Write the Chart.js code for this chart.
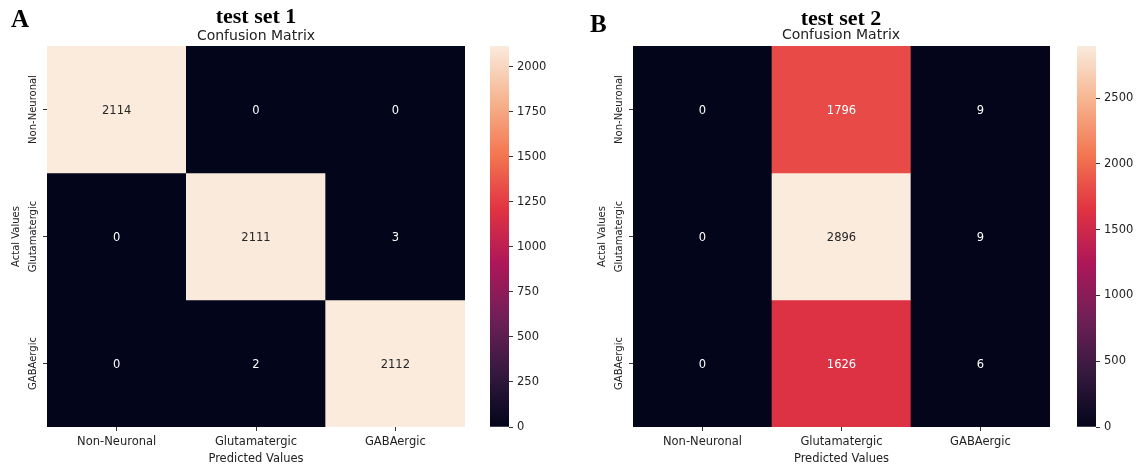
<!DOCTYPE html>
<html>
<head>
<meta charset="utf-8">
<script src="https://cdn.jsdelivr.net/npm/chart.js@4"></script>
<style>
body{margin:0;width:1139px;height:468px;overflow:hidden;background:#fff;position:relative}
canvas{position:absolute;top:0}
.panel{position:absolute;font-family:"Liberation Serif";font-weight:bold;font-size:25px;line-height:25px;color:#000}
.title{position:absolute;width:420px;text-align:center;font-family:"Liberation Serif";font-weight:bold;font-size:22px;line-height:22px;color:#000}
.sub{position:absolute;width:420px;text-align:center;font-family:"DejaVu Sans";font-size:14px;line-height:14px;color:#222}
</style>
</head>
<body>
<canvas id="hm1" width="480" height="468" style="left:0"></canvas>
<canvas id="cb1" width="80" height="468" style="left:480px"></canvas>
<canvas id="hm2" width="480" height="468" style="left:586px"></canvas>
<canvas id="cb2" width="72" height="468" style="left:1067px"></canvas>

<div class="panel" style="left:11px;top:6px">A</div>
<div class="title" style="left:46px;top:5px">test set 1</div>
<div class="sub" style="left:46px;top:28px">Confusion Matrix</div>
<div class="panel" style="left:590px;top:11px">B</div>
<div class="title" style="left:631px;top:7px">test set 2</div>
<div class="sub" style="left:631px;top:27px">Confusion Matrix</div>

<script>
const rowLabels = ['Non-Neuronal', 'Glutamatergic', 'GABAergic'];
const colLabels = ['Non-Neuronal', 'Glutamatergic', 'GABAergic'];
const set1 = [[2114, 0, 0], [0, 2111, 3], [0, 2, 2112]];
const set2 = [[0, 1796, 9], [0, 2896, 9], [0, 1626, 6]];
const cbTicks1 = [0, 250, 500, 750, 1000, 1250, 1500, 1750, 2000];
const cbTicks2 = [0, 500, 1000, 1500, 2000, 2500];

// seaborn "rocket" colormap, sampled
const rocketStops = [[0, '#03051a'], [1/7, '#35193e'], [2/7, '#701f57'], [3/7, '#ad1759'],
    [4/7, '#e13342'], [5/7, '#f37651'], [6/7, '#f6b48f'], [1, '#faebdd']];

function hex(h) { return [1, 3, 5].map(i => parseInt(h.slice(i, i + 2), 16)); }
function rocket(t) {
    t = Math.max(0, Math.min(1, t));
    for (let i = 1; i < rocketStops.length; i++) {
        const [p1, c1] = rocketStops[i - 1];
        const [p2, c2] = rocketStops[i];
        if (t <= p2) {
            const f = (t - p1) / (p2 - p1);
            const a = hex(c1), b = hex(c2);
            return a.map((v, k) => Math.round(v + (b[k] - v) * f));
        }
    }
    return hex('#faebdd');
}
function lum(rgb) {
    const c = rgb.map(v => { v /= 255; return v <= 0.03928 ? v / 12.92 : Math.pow((v + 0.055) / 1.055, 2.4); });
    return 0.2126 * c[0] + 0.7152 * c[1] + 0.0722 * c[2];
}

const font = 'DejaVu Sans';
const textCol = '#222';

// numbers in the cells + rotated row labels
const cellText = {
    id: 'cellText',
    afterDatasetsDraw(chart, args, opts) {
        const ctx = chart.ctx;
        ctx.save();
        ctx.font = '11.5px "' + font + '"';
        ctx.textAlign = 'center';
        ctx.textBaseline = 'middle';
        chart.data.datasets.forEach((ds, r) => {
            chart.getDatasetMeta(r).data.forEach((bar, c) => {
                const v = ds.values[c];
                ctx.fillStyle = lum(rocket(v / opts.vmax)) > 0.408 ? '#262626' : '#ffffff';
                const p = bar.getCenterPoint();
                ctx.fillText(String(v), p.x, p.y + 1.5);
            });
        });
        const ys = chart.scales.y;
        ctx.font = '10px "' + font + '"';
        ctx.fillStyle = textCol;
        ys.ticks.forEach((t, i) => {
            ctx.save();
            ctx.translate(ys.right - 14, ys.getPixelForValue(t.value));
            ctx.rotate(-Math.PI / 2);
            ctx.fillText(rowLabels[i], 0, 0);
            ctx.restore();
        });
        ctx.restore();
    }
};

function makeHeatmap(id, matrix, padRight) {
    const vmax = Math.max(...matrix.flat());
    const datasets = matrix.map((row, r) => ({
        data: row.map(() => [r, r + 1]),
        values: row,
        backgroundColor: row.map(v => 'rgb(' + rocket(v / vmax).join(',') + ')'),
        grouped: false,
        barPercentage: 1,
        categoryPercentage: 1,
        borderWidth: 0
    }));
    new Chart(document.getElementById(id), {
        type: 'bar',
        data: { labels: colLabels, datasets: datasets },
        options: {
            responsive: false,
            animation: false,
            layout: { padding: { top: 46, left: 0, right: padRight, bottom: 0 } },
            plugins: { legend: { display: false }, tooltip: { enabled: false }, cellText: { vmax: vmax } },
            scales: {
                x: {
                    offset: true,
                    grid: { display: true, offset: false, drawOnChartArea: false, tickLength: 4, color: '#333' },
                    border: { display: false },
                    ticks: { font: { family: font, size: 11.5 }, color: textCol, padding: 4, maxRotation: 0 },
                    title: { display: true, text: 'Predicted Values', font: { family: font, size: 11.5 }, color: textCol, padding: { top: 0, bottom: 2 } },
                    afterFit: s => { s.height = 41; }
                },
                y: {
                    type: 'linear', min: 0, max: 3, reverse: true,
                    afterBuildTicks: s => { s.ticks = [0.5, 1.5, 2.5].map(v => ({ value: v })); },
                    ticks: { display: false },
                    grid: { display: true, drawOnChartArea: false, tickLength: 4, color: '#333' },
                    border: { display: false },
                    title: { display: true, text: 'Actal Values', font: { family: font, size: 10 }, color: textCol, padding: { top: 10, bottom: 0 } },
                    afterFit: s => { s.width = 47; }
                }
            }
        },
        plugins: [cellText]
    });
    return vmax;
}

function makeColorbar(id, vmax, tickVals, axisW) {
    new Chart(document.getElementById(id), {
        type: 'bar',
        data: {
            labels: [''],
            datasets: [{
                data: [[0, vmax]],
                backgroundColor: c => {
                    const a = c.chart.chartArea;
                    if (!a) return '#03051a';
                    const g = c.chart.ctx.createLinearGradient(0, a.bottom, 0, a.top);
                    rocketStops.forEach(([p, col]) => g.addColorStop(p, col));
                    return g;
                },
                barPercentage: 1,
                categoryPercentage: 1,
                borderWidth: 0
            }]
        },
        options: {
            responsive: false,
            animation: false,
            layout: { padding: { left: 10, top: 46, bottom: 41, right: 0 } },
            plugins: { legend: { display: false }, tooltip: { enabled: false } },
            scales: {
                x: { display: false },
                y: {
                    position: 'right', min: 0, max: vmax,
                    afterBuildTicks: s => { s.ticks = tickVals.map(v => ({ value: v })); },
                    ticks: { font: { family: font, size: 11.5 }, color: textCol, padding: 4, callback: v => String(v) },
                    grid: { display: true, drawOnChartArea: false, tickLength: 4, color: '#333' },
                    border: { display: false },
                    afterFit: s => { s.width = axisW; }
                }
            }
        }
    });
}

const vmax1 = makeHeatmap('hm1', set1, 15);
makeColorbar('cb1', vmax1, cbTicks1, 51);
const vmax2 = makeHeatmap('hm2', set2, 16);
makeColorbar('cb2', vmax2, cbTicks2, 43);
</script>
</body>
</html>
